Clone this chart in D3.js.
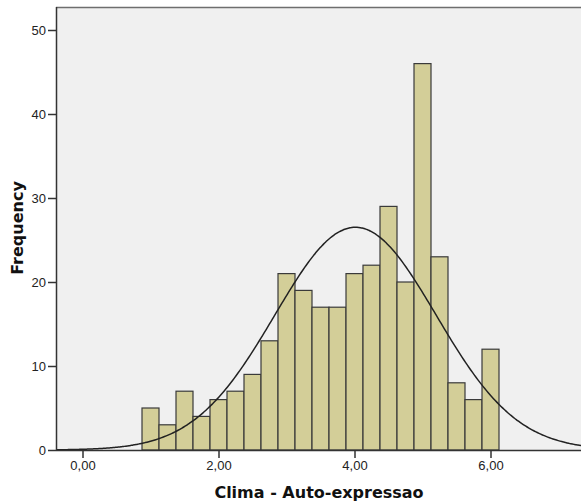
<!DOCTYPE html>
<html>
<head>
<meta charset="utf-8">
<script src="https://cdn.jsdelivr.net/npm/d3@7"></script>
<style>
  html, body { margin: 0; padding: 0; background: #ffffff; }
  svg { display: block; }
</style>
</head>
<body>
<svg id="chart" width="581" height="504"></svg>
<script>
// Histogram of "Clima - Auto-expressao" with a fitted normal curve
const binStart = 0.875;
const binWidth = 0.25;
const frequencies = [5, 3, 7, 4, 6, 7, 9, 13, 21, 19, 17, 17, 21, 22, 29, 20, 46, 23, 8, 6, 12];
const xTicks = [0, 2, 4, 6];
const yTicks = [0, 10, 20, 30, 40, 50];
const xTitle = "Clima - Auto-expressao";
const yTitle = "Frequency";

const bins = frequencies.map((f, i) => ({
  x0: binStart + i * binWidth,
  x1: binStart + (i + 1) * binWidth,
  count: f
}));

// Normal fit from the binned counts (midpoint mean and sd)
const N = d3.sum(frequencies);
const mean = d3.sum(bins, b => b.count * (b.x0 + b.x1) / 2) / N;
const sd = Math.sqrt(d3.sum(bins, b => b.count * Math.pow((b.x0 + b.x1) / 2 - mean, 2)) / (N - 1));

const svg = d3.select("#chart");
const plot = { left: 56, top: 7, right: 581, bottom: 450 };

const x = d3.scaleLinear().domain([0, 2]).range([82.5, 218.5]);
const y = d3.scaleLinear().domain([0, 10]).range([plot.bottom, plot.bottom - 84]);

// Plot background and top frame
svg.append("rect")
  .attr("x", plot.left).attr("y", plot.top)
  .attr("width", plot.right - plot.left).attr("height", plot.bottom - plot.top)
  .attr("fill", "#f0f0f0");
svg.append("line")
  .attr("x1", plot.left).attr("x2", plot.right)
  .attr("y1", plot.top + 0.5).attr("y2", plot.top + 0.5)
  .attr("stroke", "#6e6e6e").attr("stroke-width", 1.5);

// Bars
svg.append("g").selectAll("rect")
  .data(bins)
  .join("rect")
  .attr("x", d => x(d.x0))
  .attr("y", d => y(d.count))
  .attr("width", d => x(d.x1) - x(d.x0))
  .attr("height", d => y(0) - y(d.count))
  .attr("fill", "#d3ce98")
  .attr("stroke", "#3a3a3a")
  .attr("stroke-width", 1.2);

// Normal curve scaled to counts
const xMin = x.invert(plot.left), xMax = x.invert(plot.right);
const curvePts = d3.range(0, 301).map(i => {
  const v = xMin + (xMax - xMin) * i / 300;
  const dens = Math.exp(-0.5 * Math.pow((v - mean) / sd, 2)) / (sd * Math.sqrt(2 * Math.PI));
  return [v, dens * N * binWidth];
});
svg.append("path")
  .datum(curvePts)
  .attr("fill", "none")
  .attr("stroke", "#222222")
  .attr("stroke-width", 1.5)
  .attr("d", d3.line().x(d => x(d[0])).y(d => y(d[1])).curve(d3.curveBasis));

// Axes
const fmt = d => d3.format(".2f")(d).replace(".", ",");
const yAxis = svg.append("g")
  .attr("transform", `translate(${plot.left},0)`)
  .call(d3.axisLeft(y).tickValues(yTicks).tickSize(8).tickPadding(2).tickSizeOuter(0));
const xAxis = svg.append("g")
  .attr("transform", `translate(0,${plot.bottom})`)
  .call(d3.axisBottom(x).tickValues(xTicks).tickFormat(fmt).tickSize(8).tickPadding(3).tickSizeOuter(0));

yAxis.select(".domain").attr("d", `M0.5,${plot.top}V${plot.bottom}`);
xAxis.select(".domain").attr("d", `M${plot.left},0.5H${plot.right}`);

[yAxis, xAxis].forEach(a => {
  a.selectAll(".domain").attr("stroke", "#333333").attr("stroke-width", 1.5);
  a.selectAll(".tick line").attr("stroke", "#333333").attr("stroke-width", 1.5);
  a.selectAll(".tick text")
    .attr("fill", "#222222")
    .style("font-family", "'Liberation Sans', Arial, sans-serif")
    .style("font-size", "13px");
});

// Axis titles
svg.append("text")
  .attr("x", 319).attr("y", 498)
  .attr("text-anchor", "middle")
  .style("font-family", "'DejaVu Sans', Verdana, sans-serif")
  .style("font-weight", "bold")
  .style("font-size", "16px")
  .attr("fill", "#111111")
  .text(xTitle);
svg.append("text")
  .attr("transform", "translate(23,228) rotate(-90)")
  .attr("text-anchor", "middle")
  .style("font-family", "'DejaVu Sans', Verdana, sans-serif")
  .style("font-weight", "bold")
  .style("font-size", "16px")
  .attr("fill", "#111111")
  .text(yTitle);
</script>
</body>
</html>
